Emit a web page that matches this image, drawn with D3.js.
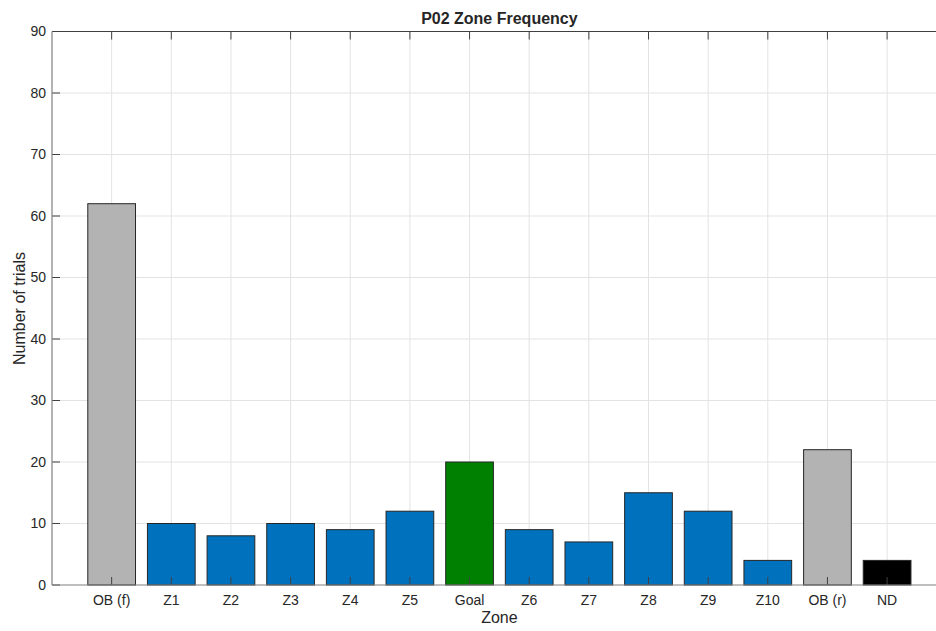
<!DOCTYPE html>
<html>
<head>
<meta charset="utf-8">
<script src="https://cdn.jsdelivr.net/npm/d3@7"></script>
<style>
  html, body { margin: 0; padding: 0; background: #fff; }
  svg { display: block; }
  text { font-family: "Liberation Sans", Arial, Helvetica, sans-serif; fill: #262626; }
</style>
</head>
<body>
<svg id="chart" width="936" height="631"></svg>
<script>
// Zone labels along the x axis
const zones = ["OB (f)", "Z1", "Z2", "Z3", "Z4", "Z5", "Goal", "Z6", "Z7", "Z8", "Z9", "Z10", "OB (r)", "ND"];
// Trial counts per zone
const counts = [62, 10, 8, 10, 9, 12, 20, 9, 7, 15, 12, 4, 22, 4];
// Bar group per zone: out-of-bounds, regular zone, goal, not detected
const groups = ["ob", "zone", "zone", "zone", "zone", "zone", "goal", "zone", "zone", "zone", "zone", "zone", "ob", "nd"];
const yTicks = [0, 10, 20, 30, 40, 50, 60, 70, 80, 90];

const groupColor = { ob: "#b3b3b3", zone: "#0072bd", goal: "#008000", nd: "#000000" };

const svg = d3.select("#chart");
const W = 936, H = 631;
const padL = 52, padT = 31.5, baseY = 585;
const unit = 59.65;

const x = d3.scaleLinear().domain([0, zones.length + 1]).range([padL, padL + unit * (zones.length + 1)]);
const y = d3.scaleLinear().domain([0, 90]).range([baseY, padT]);
const midX = x((zones.length + 1) / 2);

svg.append("defs").append("clipPath").attr("id", "plotClip")
  .append("rect").attr("x", padL).attr("y", padT - 1).attr("width", W - padL).attr("height", baseY - padT + 2);

const plot = svg.append("g").attr("clip-path", "url(#plotClip)");

// grid
plot.append("g").selectAll("line").data(yTicks.slice(1, -1)).join("line")
  .attr("x1", padL).attr("x2", W).attr("y1", d => y(d)).attr("y2", d => y(d))
  .attr("stroke", "#e3e3e3").attr("stroke-width", 1);
plot.append("g").selectAll("line").data(zones).join("line")
  .attr("x1", (d, i) => x(i + 1)).attr("x2", (d, i) => x(i + 1))
  .attr("y1", padT).attr("y2", baseY)
  .attr("stroke", "#e3e3e3").attr("stroke-width", 1);

// bars
const bw = 0.8;
plot.append("g").selectAll("rect").data(counts).join("rect")
  .attr("x", (d, i) => x(i + 1 - bw / 2))
  .attr("width", x(bw) - x(0))
  .attr("y", d => y(d))
  .attr("height", d => y(0) - y(d))
  .attr("fill", (d, i) => groupColor[groups[i]])
  .attr("stroke", "#262626").attr("stroke-width", 1);

// inward ticks on bottom, top and left
const tickLen = 8;
const tickG = plot.append("g").attr("stroke", "#404040").attr("stroke-width", 1);
zones.forEach((z, i) => {
  tickG.append("line").attr("x1", x(i + 1)).attr("x2", x(i + 1)).attr("y1", baseY).attr("y2", baseY - tickLen);
  tickG.append("line").attr("x1", x(i + 1)).attr("x2", x(i + 1)).attr("y1", padT).attr("y2", padT + tickLen);
});
yTicks.forEach(t => {
  tickG.append("line").attr("x1", padL).attr("x2", padL + tickLen).attr("y1", y(t)).attr("y2", y(t));
});

// axis lines
svg.append("line").attr("x1", padL).attr("x2", W).attr("y1", baseY).attr("y2", baseY)
  .attr("stroke", "#808080").attr("stroke-width", 1.2);
svg.append("line").attr("x1", padL).attr("x2", W).attr("y1", padT).attr("y2", padT)
  .attr("stroke", "#404040").attr("stroke-width", 1.2);
svg.append("line").attr("x1", padL).attr("x2", padL).attr("y1", padT).attr("y2", baseY)
  .attr("stroke", "#808080").attr("stroke-width", 1.2);

// tick labels
svg.append("g").selectAll("text").data(yTicks).join("text")
  .attr("x", padL - 6).attr("y", d => y(d)).attr("dy", "0.35em")
  .attr("text-anchor", "end").attr("font-size", 14).text(d => d);
svg.append("g").selectAll("text").data(zones).join("text")
  .attr("x", (d, i) => x(i + 1)).attr("y", 600).attr("dy", "0.35em")
  .attr("text-anchor", "middle").attr("font-size", 14).text(d => d);

// axis titles and chart title
svg.append("text").attr("x", midX).attr("y", 617).attr("dy", "0.35em")
  .attr("text-anchor", "middle").attr("font-size", 16).text("Zone");
svg.append("text").attr("transform", "translate(19,308.5) rotate(-90)").attr("dy", "0.35em")
  .attr("text-anchor", "middle").attr("font-size", 16).text("Number of trials");
svg.append("text").attr("x", midX).attr("y", 18).attr("dy", "0.35em")
  .attr("text-anchor", "middle").attr("font-size", 16).attr("font-weight", "bold").text("P02 Zone Frequency");
</script>
</body>
</html>
